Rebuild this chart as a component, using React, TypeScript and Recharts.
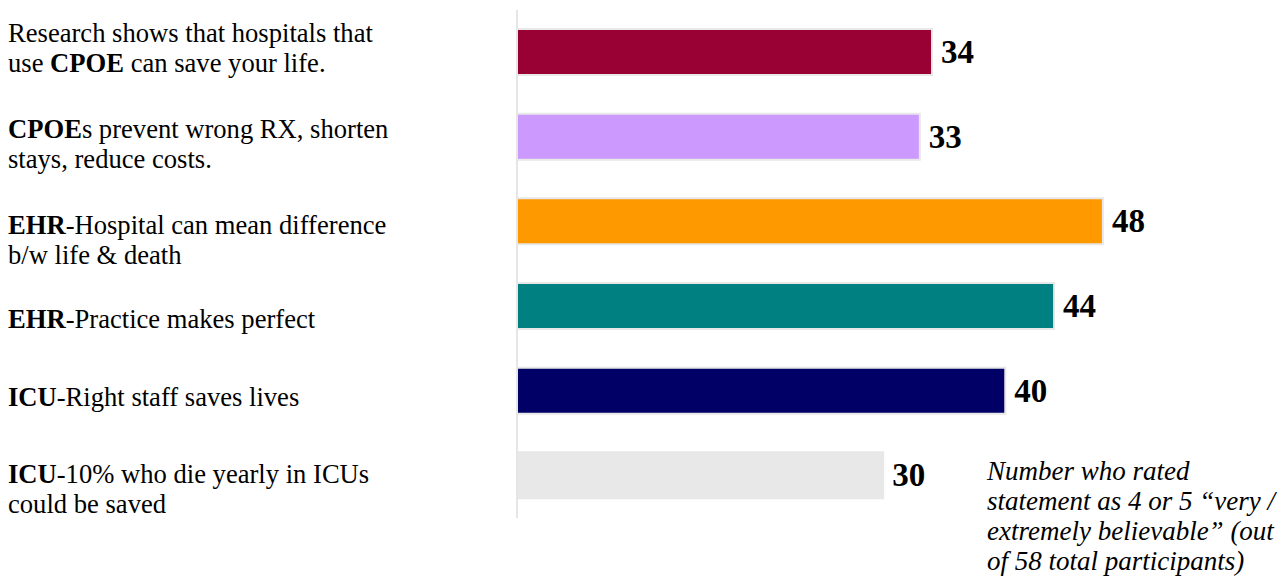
import React from "react";
import { BarChart, Bar, XAxis, YAxis, Cell, LabelList } from "recharts";

// ---- data ----
const categories: string[][] = [
  ["Research shows that hospitals that", "use **CPOE** can save your life."],
  ["**CPOE**s prevent wrong RX, shorten", "stays, reduce costs."],
  ["**EHR**-Hospital can mean difference", "b/w life & death"],
  ["**EHR**-Practice makes perfect"],
  ["**ICU**-Right staff saves lives"],
  ["**ICU**-10% who die yearly in ICUs", "could be saved"],
];
const values: number[] = [34, 33, 48, 44, 40, 30];
const barColors: string[] = ["#990033", "#CC99FF", "#FF9900", "#008080", "#000066", "#E8E8E8"];
const totalParticipants = 58;
const noteLines: string[] = [
  "Number who rated",
  "statement as 4 or 5 \u201cvery /",
  "extremely believable\u201d (out",
  "of 58 total participants)",
];

// ---- styling / layout constants ----
const labelBaselineOffsets = [-10, 1, 12, 22, 15, 7];
const LINE_H = 30;
const FONT = "'Liberation Serif', 'Times New Roman', serif";

const data = categories.map((lines, i) => ({
  name: lines.join(" ").replace(/\*\*/g, ""),
  lines,
  value: values[i],
}));

function renderSegments(line: string) {
  const parts = line.split("**");
  return parts.map((p, j) =>
    p === "" ? null : (
      <tspan key={j} fontWeight={j % 2 === 1 ? "bold" : "normal"}>
        {p}
      </tspan>
    )
  );
}

const CategoryTick = (props: any) => {
  const { y, index } = props;
  const lines = categories[index] || [];
  const base = y + (labelBaselineOffsets[index] || 0);
  return (
    <g>
      {lines.map((line, k) => (
        <text
          key={k}
          x={0}
          y={base + k * LINE_H}
          fontSize={26.6}
          fontFamily={FONT}
          fill="#000"
        >
          {renderSegments(line)}
        </text>
      ))}
    </g>
  );
};

const ValueLabel = (props: any) => {
  const { x, y, width, height, value } = props;
  return (
    <text
      x={x + width + 9}
      y={y + height / 2 + 11}
      fontSize={33}
      fontWeight="bold"
      fontFamily={FONT}
      fill="#000"
    >
      {value}
    </text>
  );
};

export default function App() {
  return (
    <div style={{ position: "relative", width: 1278, height: 572, background: "#fff" }}>
      <BarChart
        width={1278}
        height={572}
        data={data}
        layout="vertical"
        margin={{ top: 2, right: 61, bottom: 62, left: 0 }}
        barCategoryGap={0}
      >
        <XAxis type="number" domain={[0, totalParticipants]} hide />
        <YAxis
          type="category"
          dataKey="name"
          width={509}
          interval={0}
          tickLine={false}
          axisLine={{ stroke: "#E6E6E6", strokeWidth: 2 }}
          tick={<CategoryTick />}
        />
        <Bar
          dataKey="value"
          barSize={46}
          stroke="#E8E8E8"
          strokeWidth={2}
          isAnimationActive={false}
        >
          {data.map((d, i) => (
            <Cell key={d.name} fill={barColors[i]} />
          ))}
          <LabelList dataKey="value" content={<ValueLabel />} />
        </Bar>
      </BarChart>
      <div
        style={{
          position: "absolute",
          left: 979,
          top: 448,
          fontFamily: FONT,
          fontStyle: "italic",
          fontSize: 27,
          lineHeight: "30px",
          color: "#000",
          whiteSpace: "nowrap",
        }}
      >
        {noteLines.map((l, i) => (
          <div key={i}>{l}</div>
        ))}
      </div>
    </div>
  );
}
